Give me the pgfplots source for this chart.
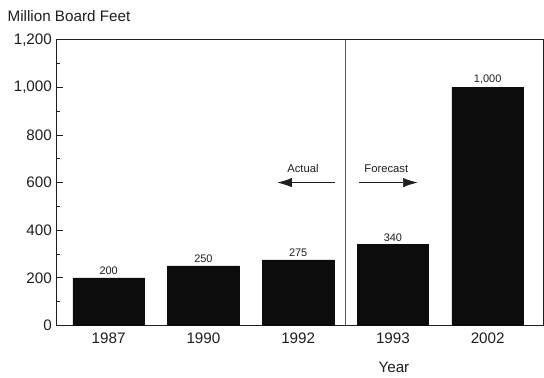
\documentclass[border=0pt]{standalone}
\usepackage{pgfplots}
\pgfplotsset{compat=1.18}
\usepackage{fontspec}
\setmainfont{Liberation Sans}
\usetikzlibrary{arrows.meta}
\definecolor{ink}{HTML}{1E1E1E}
\definecolor{barfill}{HTML}{0C0C0C}
\begin{document}
\begin{tikzpicture}
\begin{axis}[
  at={(0,0)}, anchor=south west,
  scale only axis,
  width=368pt, height=216pt,
  xmin=-0.55, xmax=4.588,
  ymin=0, ymax=1200,
  ybar, bar width=54pt,
  xtick=data,
  xticklabels={1987,1990,1992,1993,2002},
  xtick style={draw=none},
  ytick={0,200,...,1200},
  minor y tick num=1,
  ytick pos=left,
  tick align=inside,
  major tick length=4.5pt,
  minor tick length=2.5pt,
  tick style={ink, line width=0.6pt},
  axis line style={ink, line width=0.9pt},
  /pgf/number format/assume math mode=true,
  /pgf/number format/1000 sep={,},
  y tick label style={/pgf/number format/fixed, font=\fontsize{11.5}{13}\selectfont, text=ink},
  x tick label style={font=\fontsize{11.5}{13}\selectfont, text=ink, yshift=-2pt},
  nodes near coords,
  nodes near coords style={font=\fontsize{8.3}{10}\selectfont, text=ink, /pgf/number format/1000 sep={,}, yshift=-1pt},
  clip=false,
]
\addplot[fill=barfill, draw=barfill] coordinates {(0,200) (1,250) (2,275) (3,340) (4,1000)};
% boundary between actual and forecast years
\draw[gray!70!black, line width=0.5pt] (axis cs:2.5,0) -- (axis cs:2.5,1200);
% direction markers
\draw[ink, line width=0.5pt, -{Latex[length=11pt, width=7pt]}] (axis cs:2.39,600) -- (axis cs:1.78,600);
\node[font=\fontsize{8.5}{10}\selectfont, text=ink] at (axis cs:2.05,658) {Actual};
\draw[ink, line width=0.5pt, -{Latex[length=11pt, width=7pt]}] (axis cs:2.64,600) -- (axis cs:3.26,600);
\node[font=\fontsize{8.5}{10}\selectfont, text=ink] at (axis cs:2.93,658) {Forecast};
\end{axis}
\node[anchor=west, font=\fontsize{11.5}{13}\selectfont, text=ink] at (-40.5pt, 234pt) {Million Board Feet};
\node[font=\fontsize{11.5}{13}\selectfont, text=ink] at (255pt, -31.5pt) {Year};
\path[use as bounding box] (-42.75pt,-39pt) rectangle (365.25pt,246pt);
\end{tikzpicture}
\end{document}
